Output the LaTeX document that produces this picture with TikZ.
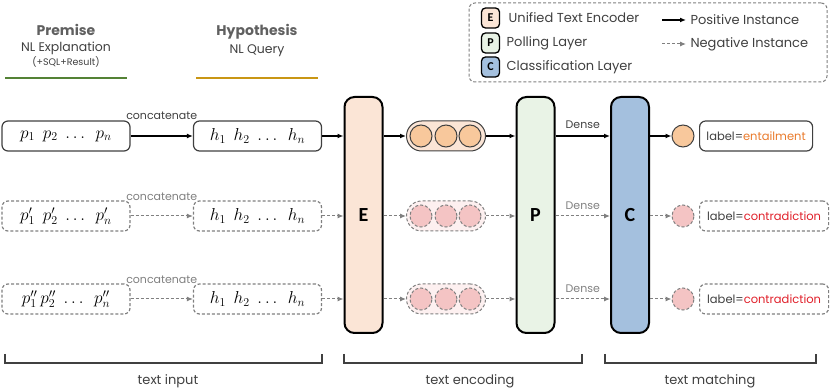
\documentclass[tikz,border=0pt]{standalone}
\usepackage{fontspec}
\setmainfont{Poppins}
\newfontfamily\blockfont{Carlito}
\usetikzlibrary{arrows.meta,positioning,calc}
\definecolor{inkgray}{RGB}{64,64,64}
\definecolor{titlegray}{RGB}{96,96,96}
\definecolor{neggray}{RGB}{128,128,128}
\definecolor{encpeach}{RGB}{251,229,214}
\definecolor{polgreen}{RGB}{233,243,230}
\definecolor{clsblue}{RGB}{164,192,222}
\definecolor{dotorange}{RGB}{248,200,156}
\definecolor{dotpink}{RGB}{244,196,196}
\definecolor{pillpink}{RGB}{253,240,240}
\definecolor{premgreen}{RGB}{84,130,53}
\definecolor{hypgold}{RGB}{201,150,20}
\definecolor{entorange}{RGB}{233,122,43}
\definecolor{conred}{RGB}{224,32,42}

\begin{document}
\begin{tikzpicture}[x=1pt,y=-1pt,>={Latex[length=6pt,width=5pt]},
  seqbox/.style={draw=inkgray,line width=1.2pt,rounded corners=6pt,minimum width=128pt,minimum height=30pt,font=\fontsize{16.5}{18}\selectfont},
  seqneg/.style={seqbox,draw=neggray,dash pattern=on 3pt off 2pt},
  block/.style={draw=black,line width=2pt,rounded corners=10pt,minimum width=38pt,minimum height=236pt,font=\blockfont\bfseries\fontsize{20}{20}\selectfont},
  pill/.style={draw=inkgray,line width=1pt,rounded corners=15pt,minimum width=79pt,minimum height=30pt,fill=encpeach},
  pillneg/.style={pill,draw=neggray,dash pattern=on 3pt off 2pt,fill=pillpink},
  dot/.style={circle,draw=inkgray,line width=1pt,minimum size=22pt,inner sep=0pt,fill=dotorange},
  dotneg/.style={dot,draw=neggray,dash pattern=on 3pt off 2pt,fill=dotpink},
  outbox/.style={draw=inkgray,line width=1.2pt,rounded corners=6pt,minimum height=30pt,inner xsep=3pt,anchor=west,text=inkgray,font=\fontsize{11.5}{13}\selectfont},
  outneg/.style={outbox,draw=neggray,dash pattern=on 3pt off 2pt},
  posline/.style={->,line width=1.2pt,draw=black},
  negline/.style={->,line width=1pt,draw=neggray,dash pattern=on 3pt off 2pt},
  small/.style={font=\fontsize{11}{12}\selectfont,text=inkgray},
  smallneg/.style={small,text=neggray},
  icon/.style={draw=black,line width=1.3pt,rounded corners=4pt,minimum width=18pt,minimum height=20pt,inner sep=0pt,font=\blockfont\bfseries\fontsize{12}{12}\selectfont},
  legtext/.style={anchor=west,text=inkgray,font=\fontsize{13}{15}\selectfont},
  bracket/.style={line width=1.3pt,draw=inkgray},
  stage/.style={text=inkgray,font=\fontsize{13}{15}\selectfont}]
\useasboundingbox (0,0) rectangle (831,390);

\node[text=titlegray,font=\bfseries\fontsize{14}{16}\selectfont] (prem) at (66,30) {Premise};
\node[text=inkgray,font=\fontsize{12.5}{14}\selectfont] (premsub) at (66,48) {NL Explanation};
\node[text=inkgray,font=\fontsize{9.5}{11}\selectfont] (premsql) at (66,62) {(+SQL+Result)};
\node[text=titlegray,font=\bfseries\fontsize{14}{16}\selectfont] (hyp) at (257,32) {Hypothesis};
\node[text=inkgray,font=\fontsize{12.5}{14}\selectfont] (hypsub) at (257,51) {NL Query};
\draw[premgreen,line width=2pt] (5,78) -- (127,78);
\draw[hypgold,line width=2pt] (196,78) -- (318,78);

\node[draw=neggray,dash pattern=on 3pt off 2pt,line width=1pt,rounded corners=6pt,minimum width=358pt,minimum height=79pt] (legend) at (648,42.5) {};
\node[icon,fill=encpeach] (iconE) at (490.5,18) {E};
\node[icon,fill=polgreen] (iconP) at (490.5,43) {P};
\node[icon,fill=clsblue] (iconC) at (490.5,67) {C};
\node[legtext,right=5pt of iconE] (legE) {Unified Text Encoder};
\node[legtext,right=3pt of iconP] (legP) {Polling Layer};
\node[legtext,right=3pt of iconC] (legC) {Classification Layer};
\coordinate (posA) at (662,20);
\coordinate (posB) at (686,20);
\coordinate (negA) at (662,44);
\coordinate (negB) at (686,44);
\draw[posline] (posA) -- (posB);
\draw[negline] (negA) -- (negB);
\node[legtext,right=1pt of posB] (legpos) {Positive Instance};
\node[legtext,right=1pt of negB] (legneg) {Negative Instance};

\node[block,fill=encpeach] (E) at (363.5,215) {E};
\node[block,fill=polgreen] (P) at (535.5,215) {P};
\node[block,fill=clsblue] (C) at (630,215) {C};

\node[seqbox] (p1) at (66,136) {$p_1\;\, p_2\;\ldots\;\, p_n$};
\node[seqbox] (h1) at (257.5,136) {$h_1\;\, h_2\;\ldots\;\, h_n$};
\node[pill] (v1) at (446,136) {};
\foreach \k/\x in {a/421,b/446,c/470}
  \node[dot] (v1\k) at (\x,136) {};
\node[dot] (o1) at (683,136) {};
\node[outbox,minimum width=113pt] (l1) at (699,136) {label=\textcolor{entorange}{entailment}};
\draw[posline] (p1) -- node[small,above=12pt] (cat1) {concatenate} (h1);
\draw[posline] (h1) -- (E.west |- h1);
\draw[posline] (E.east |- v1) -- (v1);
\draw[posline] (v1) -- (P.west |- v1);
\draw[posline] (P.east |- v1) -- node[small,above=3pt] (dense1) {Dense} (C.west |- v1);
\draw[posline] (C.east |- o1) -- (o1);

\node[seqneg] (p2) at (66,216) {$p'_1\;\, p'_2\;\ldots\;\, p'_n$};
\node[seqneg] (h2) at (257.5,216) {$h_1\;\, h_2\;\ldots\;\, h_n$};
\node[pillneg] (v2) at (446,216) {};
\foreach \k/\x in {a/421,b/446,c/470}
  \node[dotneg] (v2\k) at (\x,216) {};
\node[dotneg] (o2) at (683,216) {};
\node[outneg,minimum width=129pt] (l2) at (699,216) {label=\textcolor{conred}{contradiction}};
\draw[negline] (p2) -- node[smallneg,above=12pt] (cat2) {concatenate} (h2);
\draw[negline] (h2) -- (E.west |- h2);
\draw[negline] (E.east |- v2) -- (v2);
\draw[negline] (v2) -- (P.west |- v2);
\draw[negline] (P.east |- v2) -- node[smallneg,above=3pt] (dense2) {Dense} (C.west |- v2);
\draw[negline] (C.east |- o2) -- (o2);

\node[seqneg] (p3) at (66,299) {$p''_1\, p''_2\;\ldots\;\, p''_n$};
\node[seqneg] (h3) at (257.5,299) {$h_1\;\, h_2\;\ldots\;\, h_n$};
\node[pillneg] (v3) at (446,299) {};
\foreach \k/\x in {a/421,b/446,c/470}
  \node[dotneg] (v3\k) at (\x,299) {};
\node[dotneg] (o3) at (683,299) {};
\node[outneg,minimum width=129pt] (l3) at (699,299) {label=\textcolor{conred}{contradiction}};
\draw[negline] (p3) -- node[smallneg,above=12pt] (cat3) {concatenate} (h3);
\draw[negline] (h3) -- (E.west |- h3);
\draw[negline] (E.east |- v3) -- (v3);
\draw[negline] (v3) -- (P.west |- v3);
\draw[negline] (P.east |- v3) -- node[smallneg,above=3pt] (dense3) {Dense} (C.west |- v3);
\draw[negline] (C.east |- o3) -- (o3);

\draw[bracket] (5,354) -- (5,363) -- (322,363) -- (322,354);
\draw[bracket] (344,354) -- (344,363) -- (582,363) -- (582,354);
\draw[bracket] (605,354) -- (605,363) -- (816,363) -- (816,354);
\node[stage] (sin) at (168,381) {text input};
\node[stage] (senc) at (470,381) {text encoding};
\node[stage] (smat) at (710,381) {text matching};
\end{tikzpicture}
\end{document}
